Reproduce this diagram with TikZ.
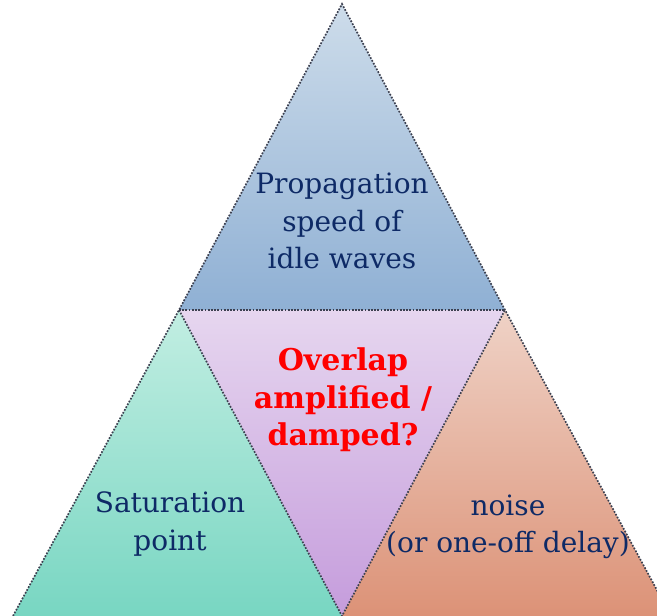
\documentclass[tikz,border=0pt]{standalone}
\usepackage{fontspec}
\setmainfont{DejaVu Serif}
\definecolor{txtblue}{HTML}{0E2A66}
\definecolor{topA}{HTML}{CDDCEA}
\definecolor{topB}{HTML}{8FB0D4}
\definecolor{midA}{HTML}{E6D6EF}
\definecolor{midB}{HTML}{C59CDC}
\definecolor{leftA}{HTML}{C2EEE2}
\definecolor{leftB}{HTML}{78D6C2}
\definecolor{rightA}{HTML}{EFD2C6}
\definecolor{rightB}{HTML}{DC9277}
\definecolor{edge}{HTML}{3C4050}
\tikzset{
  border/.style={draw=edge, line width=1.7pt, dash pattern=on 1.7pt off 1.5pt},
  lbl/.style={text=txtblue, align=center, font=\fontsize{28}{37.5}\selectfont},
  hot/.style={text=red, align=center, font=\fontsize{30}{37.5}\selectfont\bfseries}
}
\begin{document}
\begin{tikzpicture}[x=1pt,y=-1pt]
\useasboundingbox (0,0) rectangle (657,616);
\clip (0,0) rectangle (657,616);
\coordinate (A) at (342,4);
\coordinate (B) at (179,310);
\coordinate (C) at (505,310);
\coordinate (D) at (13,616);
\coordinate (E) at (342,616);
\coordinate (F) at (671,616);
% fills
\shade[top color=topA, bottom color=topB] (A) -- (B) -- (C) -- cycle;
\shade[top color=midA, bottom color=midB] (B) -- (C) -- (E) -- cycle;
\shade[top color=leftA, bottom color=leftB] (B) -- (D) -- (E) -- cycle;
\shade[top color=rightA, bottom color=rightB] (C) -- (E) -- (F) -- cycle;
% borders
\draw[border] (D) -- (B) -- (A) -- (C) -- (F);
\draw[border] (B) -- (C);
\draw[border] (B) -- (E) -- (C);
% texts
\node[lbl] (top) at (342,221) {Propagation\\speed of\\idle waves};
\node[hot] (mid) at (343,400) {Overlap\\amplified /\\damped?};
\node[lbl] (left) at (170,524) {Saturation\\point};
\node[lbl] (right) at (508,527) {noise\\(or one-off delay)};
\end{tikzpicture}
\end{document}
